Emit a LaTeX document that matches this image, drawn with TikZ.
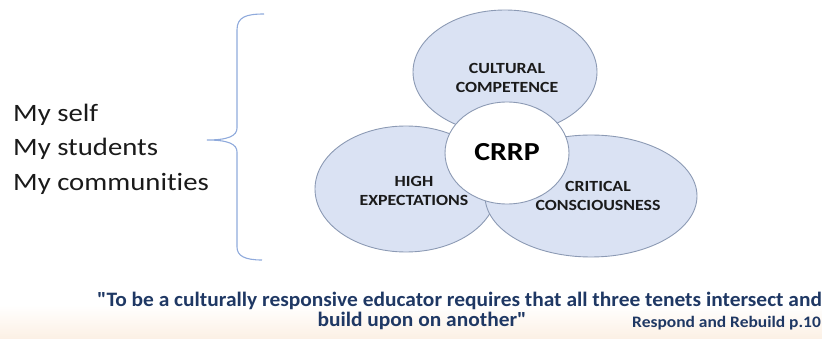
\documentclass[tikz,border=0pt]{standalone}
\usepackage{fontspec}
\setmainfont[Ligatures={NoCommon}]{Carlito}
\newfontfamily\widefont[FakeStretch=1.15,Ligatures={NoCommon}]{Carlito}
\newfontfamily\quotefont[FakeStretch=1.045]{Carlito}
\newfontfamily\srcfont[FakeStretch=1.09]{Carlito}
\definecolor{ellfill}{HTML}{DAE2F3}
\definecolor{elldraw}{HTML}{8C9AB4}
\definecolor{bracecol}{HTML}{8FAADC}
\definecolor{navy}{HTML}{1F3864}
\definecolor{peach}{HTML}{FCF0E4}
\definecolor{txt}{HTML}{1A1A1A}
\begin{document}
\begin{tikzpicture}[x=1pt,y=-1pt,
  bubble/.style={fill=ellfill,draw=elldraw,line width=0.9pt},
  lbl/.style={font=\widefont\bfseries\fontsize{15.5}{19}\selectfont,text=txt,align=center,inner sep=0pt},
  listtxt/.style={font=\widefont\fontsize{25}{34.5}\selectfont,text=txt,align=left,anchor=west,inner sep=0pt},
  quote/.style={font=\quotefont\bfseries\fontsize{20.5}{20}\selectfont,text=navy,inner sep=0pt,anchor=base west}]
\useasboundingbox (0,0) rectangle (822,339);
\shade[top color=white,bottom color=peach] (0,305) rectangle (822,339);
% bubbles
\fill[bubble] (505,72) ellipse [x radius=92,y radius=62];
\fill[bubble] (406,189) ellipse [x radius=91,y radius=63];
\fill[bubble] (591,196) ellipse [x radius=106,y radius=61];
\draw[fill=white,draw=elldraw,line width=0.9pt] (507,153) ellipse [x radius=62,y radius=51];
% labels
\node[lbl] (cc) at (507,78) {CULTURAL\\COMPETENCE};
\node[lbl] (he) at (414,191) {HIGH\\EXPECTATIONS};
\node[lbl] (crc) at (598,196) {CRITICAL\\CONSCIOUSNESS};
\node[font=\widefont\bfseries\fontsize{26}{30}\selectfont,text=black,inner sep=0pt] (crrp) at (507,152) {CRRP};
% list
\node[listtxt] (list) at (13,149) {My self\\My students\\My communities};
% brace
\coordinate (btop) at (264,14);
\coordinate (btip) at (207,140);
\coordinate (bbot) at (262,260);
\draw[bracecol,line width=1.1pt] (btop) .. controls (246,14) and (237,17) .. (237,30)
  -- (237,128) .. controls (237,136) and (228,140) .. (btip)
  .. controls (228,140) and (237,144) .. (237,152)
  -- (237,247) .. controls (237,256) and (245,260) .. (bbot);
% quote
\node[quote] (q1) at (97,306.5) {\symbol{34}To be a culturally responsive educator requires that all three tenets intersect and};
\node[quote,anchor=base] (q2) at (422,326.5) {build upon on another\symbol{34}};
\node[font=\srcfont\bfseries\fontsize{16}{18}\selectfont,text=navy,inner sep=0pt,anchor=base west] (src) at (632,327) {Respond and Rebuild p.10};
\end{tikzpicture}
\end{document}
